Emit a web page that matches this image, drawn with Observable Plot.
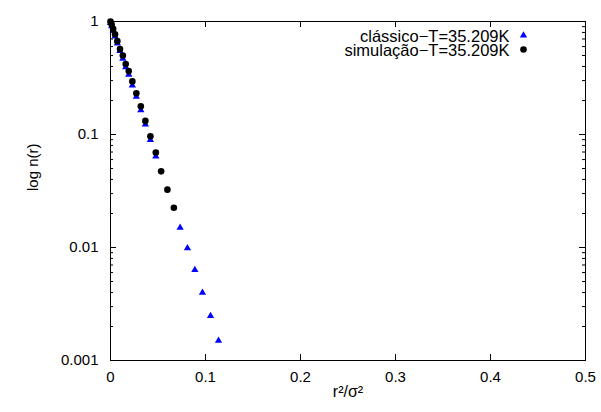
<!DOCTYPE html>
<html><head><meta charset="utf-8">
<script src="https://cdn.jsdelivr.net/npm/d3@7"></script>
<script src="https://cdn.jsdelivr.net/npm/@observablehq/plot@0.6"></script>
<style>body{margin:0;background:#fff} svg{display:block}</style>
</head><body><div id="chart"></div>
<script>
const simX = [0, 0.0012, 0.0028, 0.0048, 0.0072, 0.0100, 0.0130, 0.0160, 0.0192, 0.0230, 0.0272, 0.0319, 0.0367, 0.0420, 0.0477, 0.0533, 0.0599, 0.0667];
const simY = [1.0, 0.94, 0.86, 0.77, 0.67, 0.57, 0.50, 0.42, 0.364, 0.295, 0.232, 0.178, 0.132, 0.0965, 0.0692, 0.0472, 0.0325, 0.0225];
const claX = [0, 0.0012, 0.0028, 0.0048, 0.0072, 0.0100, 0.0130, 0.0160, 0.0192, 0.0230, 0.0272, 0.0319, 0.0367, 0.0420, 0.0477, 0.0733, 0.0810, 0.0888, 0.0968, 0.1053, 0.1137];
const claY = [0.97, 0.91, 0.83, 0.74, 0.64, 0.55, 0.47, 0.395, 0.338, 0.272, 0.216, 0.164, 0.123, 0.0897, 0.0641, 0.0150, 0.00988, 0.00634, 0.00399, 0.00248, 0.0015];
const xTicks = [0, 0.1, 0.2, 0.3, 0.4, 0.5];
const yTicks = [0.001, 0.01, 0.1, 1];
const yMinorTicks = [0.002,0.003,0.004,0.005,0.006,0.007,0.008,0.009,
  0.02,0.03,0.04,0.05,0.06,0.07,0.08,0.09,
  0.2,0.3,0.4,0.5,0.6,0.7,0.8,0.9];
const seriesNames = ["clássico−T=35.209K", "simulação−T=35.209K"];
const xLabel = "r²/σ²";
const yLabel = "log n(r)";

const sim = simX.map((x, i) => ({x, y: simY[i]}));
const cla = claX.map((x, i) => ({x, y: claY[i]}));
const W = 601, H = 412, mL = 110, mR = 16, mT = 21, mB = 52;
const pw = W - mL - mR, ph = H - mT - mB;
const font = "'Liberation Sans', Arial, Helvetica, sans-serif";
const fs = 15;
const lfs = 16.5;

const chart = Plot.plot({
  width: W, height: H,
  marginLeft: mL, marginRight: mR, marginTop: mT, marginBottom: mB,
  style: {fontFamily: font, fontSize: fs + "px", background: "#fff", color: "#000"},
  x: {domain: [0, 0.5]},
  y: {type: "log", domain: [0.001, 1]},
  marks: [
    Plot.tickX(xTicks, {x: d => d, insetTop: ph - 6, stroke: "#000"}),
    Plot.tickX(xTicks, {x: d => d, insetBottom: ph - 6, stroke: "#000"}),
    Plot.tickY(yTicks, {y: d => d, insetRight: pw - 6, stroke: "#000"}),
    Plot.tickY(yTicks, {y: d => d, insetLeft: pw - 6, stroke: "#000"}),
    Plot.tickY(yMinorTicks, {y: d => d, insetRight: pw - 3, stroke: "#000"}),
    Plot.tickY(yMinorTicks, {y: d => d, insetLeft: pw - 3, stroke: "#000"}),
    Plot.axisX(xTicks, {tickSize: 0, tickPadding: 11, label: null, fontSize: fs, tickFormat: d => String(d)}),
    Plot.axisY(yTicks, {tickSize: 0, tickPadding: 12, label: null, fontSize: fs, tickFormat: d => String(d)}),
    Plot.text([yLabel], {frameAnchor: "left", dx: -77, rotate: -90, fontSize: fs}),
    Plot.text([xLabel], {frameAnchor: "bottom", dy: 36, fontSize: fs + 1}),
    Plot.dot(cla, {x: "x", y: "y", symbol: "triangle", fill: "#0000ff", r: 2.7}),
    Plot.dot(sim, {x: "x", y: "y", symbol: "circle", fill: "#000", r: 3.3}),
    Plot.text([seriesNames[0]], {frameAnchor: "top-right", dx: -76, dy: 15, textAnchor: "end", lineAnchor: "middle", fontSize: lfs}),
    Plot.text([seriesNames[1]], {frameAnchor: "top-right", dx: -76, dy: 29, textAnchor: "end", lineAnchor: "middle", fontSize: lfs}),
    Plot.dot([0], {frameAnchor: "top-right", dx: -62, dy: 14, symbol: "triangle", fill: "#0000ff", r: 2.7}),
    Plot.dot([0], {frameAnchor: "top-right", dx: -62, dy: 28, symbol: "circle", fill: "#000", r: 3.3}),
    Plot.frame({stroke: "#000"})
  ]
});
document.getElementById("chart").appendChild(chart);
</script>
</body></html>
